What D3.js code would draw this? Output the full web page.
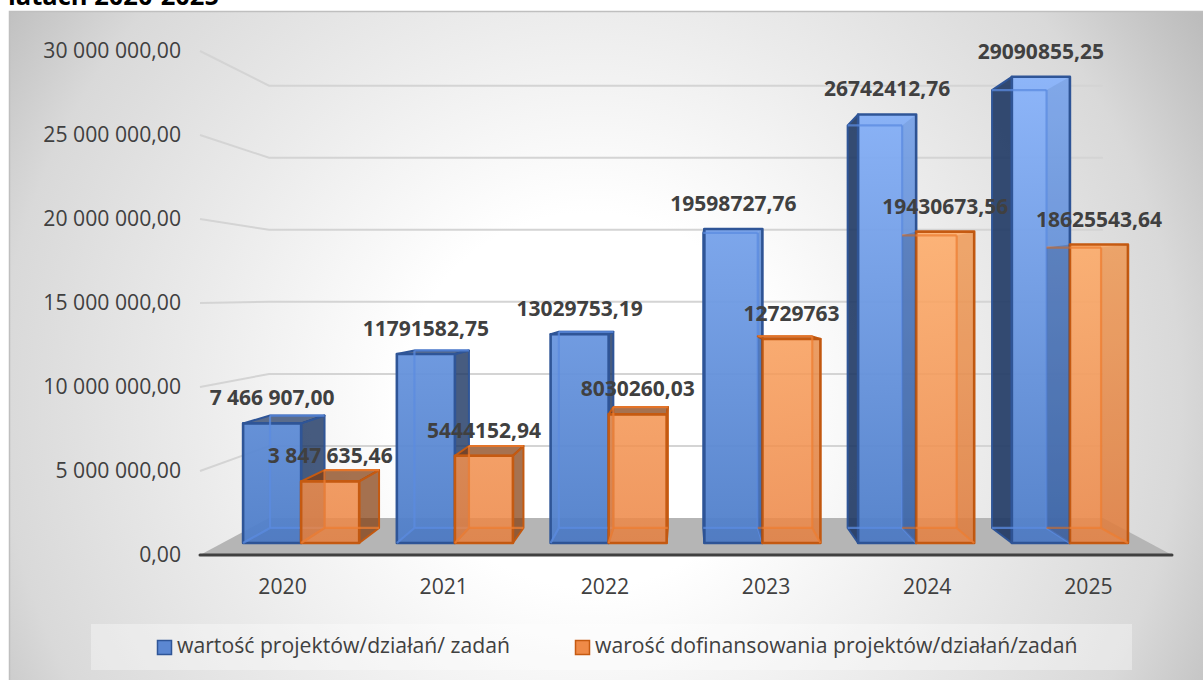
<!DOCTYPE html>
<html>
<head>
<meta charset="utf-8">
<script src="https://cdn.jsdelivr.net/npm/d3@7"></script>
<style>
  html, body { margin: 0; padding: 0; background: #fff; overflow: hidden; }
  svg { display: block; font-family: "Open Sans", sans-serif; }
  .tick text { fill: #404040; font-size: 21.2px; font-family: "Open Sans", sans-serif; }
</style>
</head>
<body>
<div id="svg-container"></div>
<script>
// data
const years = ["2020", "2021", "2022", "2023", "2024", "2025"];
const wartosc = [7466907.0, 11791582.75, 13029753.19, 19598727.76, 26742412.76, 29090855.25];
const dofinansowanie = [3847635.46, 5444152.94, 8030260.03, 12729763, 19430673.56, 18625543.64];
const wartoscLabels = ["7 466 907,00", "11791582,75", "13029753,19", "19598727,76", "26742412,76", "29090855,25"];
const dofinansowanieLabels = ["3 847 635,46", "5444152,94", "8030260,03", "12729763", "19430673,56", "18625543,64"];
const yTicks = [0, 5000000, 10000000, 15000000, 20000000, 25000000, 30000000];
const seriesNames = ["wartość projektów/działań/ zadań", "warość dofinansowania projektów/działań/zadań"];

const width = 1203;
const height = 680;

const svg = d3.select("#svg-container").append("svg").attr("width", width).attr("height", height);
const defs = svg.append("defs");

// scales (front plane of the 3d box)
const xScale = d3.scaleBand().domain(years).range([202, 1169]).paddingInner(0.245).paddingOuter(0.1225);
const xSeries = d3.scaleBand().domain([0, 1]).range([0, xScale.bandwidth()]);
const yScale = d3.scaleLinear().domain([0, 30000000]).range([555, 51]);

// perspective: k is 1 on the axis plane and gets smaller going back
const vx = 686;
const vy = 295;
const kFront = 0.954;
const kBack = 0.896;
const kWall = 0.858;
const project = (x, y, k) => [vx + (x - vx) * k, vy + (y - vy) * k];

// background
const bg = defs.append("radialGradient").attr("id", "bg").attr("gradientUnits", "userSpaceOnUse")
  .attr("cx", 590).attr("cy", 400).attr("r", 720);
[[0.26, "#ffffff"], [0.55, "#ebebeb"], [0.82, "#d9d9d9"], [0.93, "#c7c7c7"], [1, "#bcbcbc"]].forEach((s) => {
  bg.append("stop").attr("offset", s[0]).attr("stop-color", s[1]);
});

const gradBlue = defs.append("linearGradient").attr("id", "gBlue").attr("gradientUnits", "userSpaceOnUse")
  .attr("x1", 0).attr("x2", 0).attr("y1", 70).attr("y2", 545);
gradBlue.append("stop").attr("offset", "0").attr("stop-color", "#8ab4fb");
gradBlue.append("stop").attr("offset", "1").attr("stop-color", "#4f7ec9");

const gradOrange = defs.append("linearGradient").attr("id", "gOrange").attr("gradientUnits", "userSpaceOnUse")
  .attr("x1", 0).attr("x2", 0).attr("y1", 220).attr("y2", 545);
gradOrange.append("stop").attr("offset", "0").attr("stop-color", "#ffab66");
gradOrange.append("stop").attr("offset", "1").attr("stop-color", "#ec8544");

svg.append("text").attr("x", 8).attr("y", 5)
  .style("font-size", "25.5px").style("font-weight", "700").style("fill", "#000")
  .text("latach 2020-2025");

svg.append("rect").attr("x", 9).attr("y", 12).attr("width", width - 9).attr("height", height - 12)
  .attr("fill", "url(#bg)");
svg.append("path").attr("d", "M9.5,680V11.5H1203").attr("fill", "none").attr("stroke", "#bfbfbf").attr("stroke-width", 1.5);

// floor
const floorLeft = 200;
const floorRight = 1172;
const floorPts = [
  [floorLeft, yScale(0)], [floorRight, yScale(0)],
  project(floorRight, yScale(0), kWall), project(floorLeft, yScale(0), kWall),
];
svg.append("polygon").attr("points", floorPts.join(" ")).attr("fill", "#b5b5b5");

// gridlines, left wall + back wall
svg.append("g").selectAll("polyline")
  .data(yTicks.filter((d) => d > 0))
  .enter()
  .append("polyline")
  .attr("points", (d) => [
    [floorLeft, yScale(d)],
    project(floorLeft, yScale(d), kWall),
    project(floorRight, yScale(d), kWall),
  ].join(" "))
  .attr("fill", "none")
  .attr("stroke", "#d4d4d4")
  .attr("stroke-width", 2);

// bars
const palette = [
  { fill: "url(#gBlue)", edge: "#2f5597", inner: "#5b8be0", side: "#1f3864", opacity: 0.95 },
  { fill: "url(#gOrange)", edge: "#c55a11", inner: "#ed7d31", side: "#843c0c", opacity: 0.86 },
];

const barsG = svg.append("g");

function box(d, s) {
  const x0 = xScale(d.year) + xSeries(s);
  const x1 = x0 + xSeries.bandwidth();
  const yT = yScale(d.value);
  const yB = yScale(0);
  return {
    fbl: project(x0, yB, kFront), fbr: project(x1, yB, kFront),
    ftl: project(x0, yT, kFront), ftr: project(x1, yT, kFront),
    bbl: project(x0, yB, kBack), bbr: project(x1, yB, kBack),
    btl: project(x0, yT, kBack), btr: project(x1, yT, kBack),
  };
}

function poly(g, pts, fill, opacity, stroke, sw) {
  g.append("polygon").attr("points", pts.join(" "))
    .attr("fill", fill).attr("fill-opacity", opacity)
    .attr("stroke", stroke || "none").attr("stroke-width", sw || 0)
    .attr("stroke-linejoin", "round");
}

function wire(g, a, b, color) {
  g.append("line")
    .attr("x1", a[0]).attr("y1", a[1]).attr("x2", b[0]).attr("y2", b[1])
    .attr("stroke", color).attr("stroke-width", 2.2).attr("stroke-opacity", 0.75);
}

function drawBar(d, s) {
  const b = box(d, s);
  const c = palette[s];
  const g = barsG.append("g");
  const leftOfVp = b.fbl[0] < b.bbl[0];

  // outer side
  if (leftOfVp) poly(g, [b.ftr, b.btr, b.bbr, b.fbr], c.side, s ? 0.72 : 0.82, c.edge, 2);
  else if (s === 0) poly(g, [b.ftl, b.btl, b.bbl, b.fbl], c.side, 0.9, c.edge, 2);

  // top, seen from above only under the vanishing point
  const topShows = b.btl[1] < b.ftl[1];
  if (topShows) poly(g, [b.ftl, b.ftr, b.btr, b.btl], c.side, 0.72, c.edge, 2);

  // front
  poly(g, [b.ftl, b.ftr, b.fbr, b.fbl], c.fill, c.opacity, c.edge, 2.6);

  // faces seen through the front
  if (leftOfVp) {
    poly(g, [b.bbl, b.bbr, b.fbr, b.fbl], c.side, 0.06);
  } else {
    poly(g, [b.ftr, b.btr, b.bbr, b.fbr], c.side, 0.1);
    poly(g, [b.bbl, b.bbr, b.fbr, b.fbl], c.side, 0.06);
  }
  wire(g, b.btl, b.btr, c.inner);
  wire(g, b.bbl, b.bbr, c.inner);
  wire(g, leftOfVp ? b.btl : b.btr, leftOfVp ? b.bbl : b.bbr, c.inner);
  wire(g, leftOfVp ? b.bbl : b.bbr, leftOfVp ? b.fbl : b.fbr, c.inner);

  // orange side leaning over the blue bar, right of the vanishing point
  if (s === 1 && !leftOfVp) poly(g, [b.ftl, b.btl, b.bbl, b.fbl], "#1f3864", 0.24);
}

years.forEach((year, i) => {
  drawBar({ year, value: wartosc[i] }, 0);
  drawBar({ year, value: dofinansowanie[i] }, 1);
});

// axes
const yAxis = d3.axisLeft(yScale)
  .tickValues(yTicks)
  .tickSize(0)
  .tickPadding(19)
  .tickFormat((d) => d3.format(",.2f")(d).replace(/,/g, " ").replace(".", ","));
svg.append("g").attr("class", "y-axis").attr("transform", `translate(${floorLeft},0)`).call(yAxis)
  .call((g) => g.select(".domain").remove());

const xAxis = d3.axisBottom(xScale).tickSize(0).tickPadding(24);
svg.append("g").attr("class", "x-axis").attr("transform", `translate(0,${yScale(0)})`).call(xAxis)
  .call((g) => g.select(".domain").remove());

svg.append("line")
  .attr("x1", floorLeft).attr("x2", floorRight)
  .attr("y1", yScale(0)).attr("y2", yScale(0))
  .attr("stroke", "#404040").attr("stroke-width", 3).attr("stroke-linecap", "round");

// data labels
function addLabels(values, labels, s) {
  svg.append("g").selectAll("text")
    .data(values)
    .enter()
    .append("text")
    .attr("x", (d, i) => project(xScale(years[i]) + xSeries(s) + xSeries.bandwidth() / 2, yScale(d), kFront)[0])
    .attr("y", (d, i) => project(0, yScale(d), kFront)[1] - 18)
    .attr("text-anchor", "middle")
    .style("font-size", "21px")
    .style("font-weight", "700")
    .style("fill", "#404040")
    .text((d, i) => labels[i]);
}
addLabels(wartosc, wartoscLabels, 0);
addLabels(dofinansowanie, dofinansowanieLabels, 1);

// legend
svg.append("rect").attr("x", 91).attr("y", 624).attr("width", 1041).attr("height", 46)
  .attr("fill", "#fff").attr("fill-opacity", 0.35);
const legendX = [157, 575];
const legendColors = [["#5b87d2", "#2f5597"], ["#ef8a48", "#c55a11"]];
const legend = svg.append("g").selectAll("g")
  .data(seriesNames)
  .enter()
  .append("g")
  .attr("transform", (d, i) => `translate(${legendX[i]},640)`);
legend.append("rect").attr("x", 0.5).attr("y", 0.5).attr("width", 14).attr("height", 14)
  .attr("fill", (d, i) => legendColors[i][0]).attr("stroke", (d, i) => legendColors[i][1]).attr("stroke-width", 1.5);
legend.append("text").attr("x", 20).attr("y", 13)
  .style("font-size", "21.2px").style("fill", "#404040")
  .text((d) => d);
</script>
</body>
</html>
